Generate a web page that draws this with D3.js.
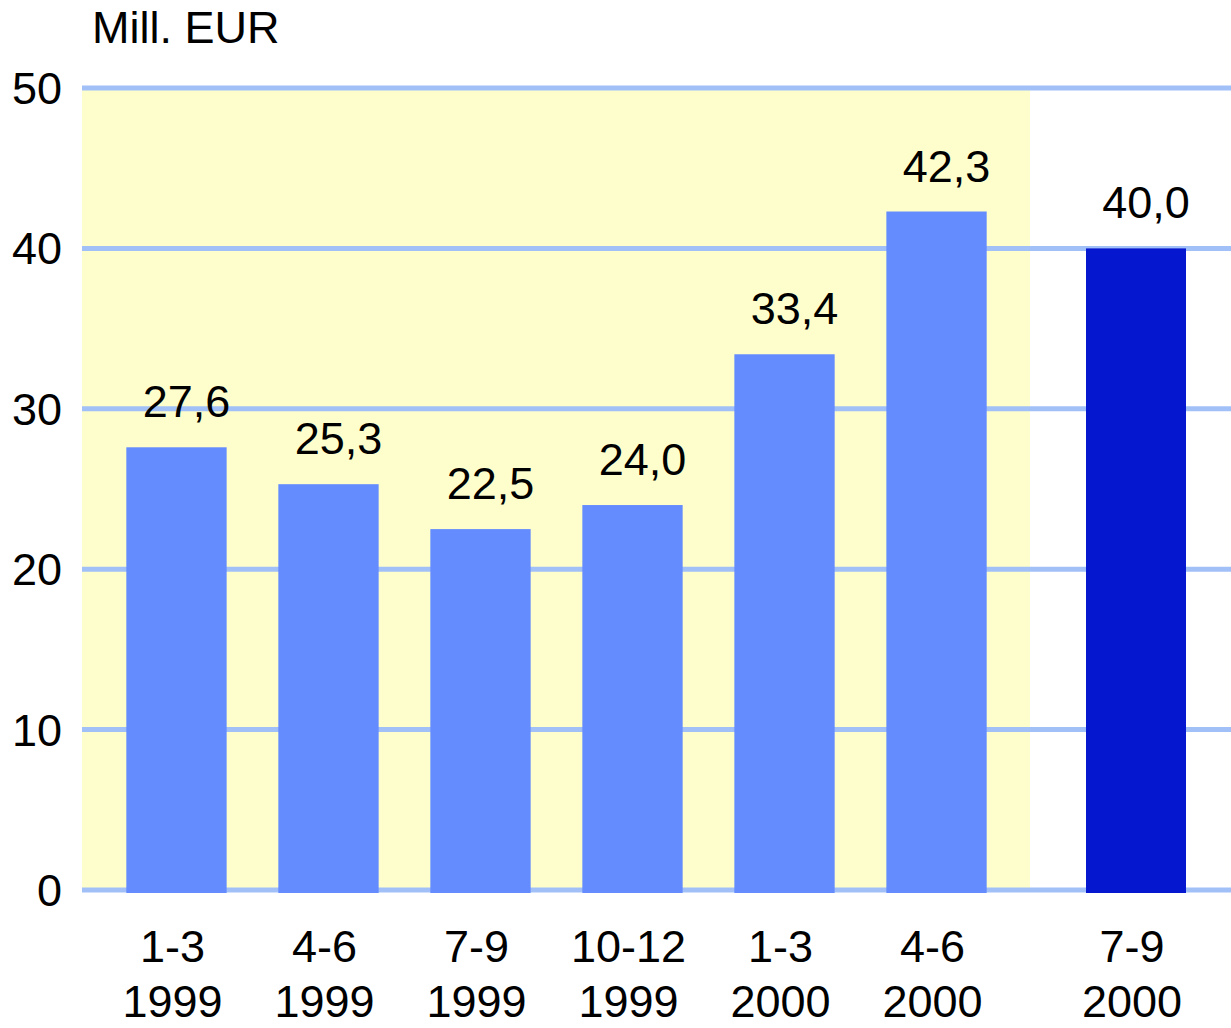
<!DOCTYPE html>
<html><head><meta charset="utf-8">
<script src="https://cdn.jsdelivr.net/npm/d3@7"></script>
<style>html,body{margin:0;padding:0;background:#fff}</style>
</head><body>
<svg id="c" width="1231" height="1028"></svg>
<script>
const periods = ["1-3", "4-6", "7-9", "10-12", "1-3", "4-6", "7-9"];
const years = ["1999", "1999", "1999", "1999", "2000", "2000", "2000"];
const values = [27.6, 25.3, 22.5, 24.0, 33.4, 42.3, 40.0];
const valueLabels = ["27,6", "25,3", "22,5", "24,0", "33,4", "42,3", "40,0"];
const highlighted = [false, false, false, false, false, false, true];
const yTicks = [0, 10, 20, 30, 40, 50];
const unitLabel = "Mill. EUR";

const ids = periods.map((p, i) => i);
const font = "'Liberation Sans', Arial, sans-serif";
const fs = 45;
const svg = d3.select("#c");

const y = d3.scaleLinear().domain([0, 50]).range([890, 88]);
// first six quarters share the shaded band, the latest quarter stands apart
const xMain = d3.scaleBand().domain(ids.slice(0, 6)).range([102, 1011]).paddingInner(0.34).paddingOuter(0.16);
const xLast = d3.scaleBand().domain(ids.slice(6)).range([1036, 1236]).paddingInner(0).paddingOuter(0.5);
const xPos = i => i < 6 ? xMain(i) : xLast(i);
const bw = i => i < 6 ? xMain.bandwidth() : xLast.bandwidth();
const cx = i => xPos(i) + bw(i) / 2;

// shaded background
svg.append("rect").attr("x", 82).attr("y", y(50)).attr("width", 1030 - 82)
  .attr("height", y(0) - y(50)).attr("fill", "#fefecc");

// gridlines
svg.append("g").selectAll("line").data(yTicks).join("line")
  .attr("x1", 82).attr("x2", 1231)
  .attr("y1", d => y(d)).attr("y2", d => y(d))
  .attr("stroke", "#a2c0f8").attr("stroke-width", 5);

// y tick labels
svg.append("g").selectAll("text").data(yTicks).join("text")
  .attr("x", 62).attr("y", d => y(d) + 16)
  .attr("text-anchor", "end")
  .attr("font-family", font).attr("font-size", fs).attr("fill", "#000")
  .text(d => d);

// unit label
svg.append("text").attr("x", 92).attr("y", 43)
  .attr("font-family", font).attr("font-size", fs).attr("fill", "#000")
  .text(unitLabel);

// bars
svg.append("g").selectAll("rect").data(ids).join("rect")
  .attr("x", i => xPos(i)).attr("width", i => bw(i))
  .attr("y", i => y(values[i])).attr("height", i => y(0) + 3 - y(values[i]))
  .attr("fill", i => highlighted[i] ? "#0518d0" : "#648cfe");

// value labels
svg.append("g").selectAll("text").data(ids).join("text")
  .attr("x", i => cx(i) + 10).attr("y", i => y(values[i]) - 30)
  .attr("text-anchor", "middle")
  .attr("font-family", font).attr("font-size", fs).attr("fill", "#000")
  .text(i => valueLabels[i]);

// category labels
const cat = svg.append("g").selectAll("text").data(ids).join("text")
  .attr("text-anchor", "middle")
  .attr("font-family", font).attr("font-size", fs).attr("fill", "#000");
cat.append("tspan").attr("x", i => cx(i) - 4).attr("y", 962).text(i => periods[i]);
cat.append("tspan").attr("x", i => cx(i) - 4).attr("y", 1017).text(i => years[i]);
</script>
</body></html>
